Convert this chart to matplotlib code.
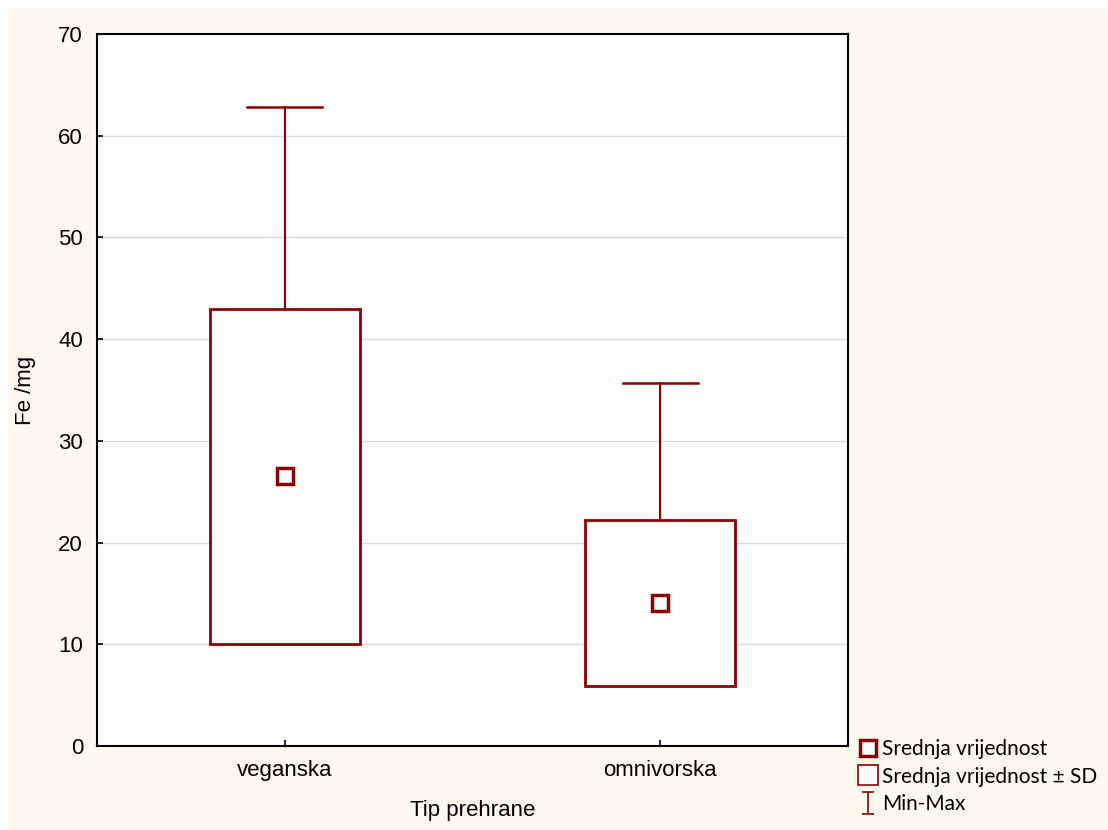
import matplotlib
matplotlib.use("Agg")
import matplotlib.pyplot as plt
from matplotlib.patches import Rectangle
from matplotlib.lines import Line2D
from matplotlib.path import Path

# data
categories = ["veganska", "omnivorska"]
means = [26.5, 14.05]
sds = [16.5, 8.2]
maxima = [62.8, 35.7]

red = "#8b0000"
cream = "#fdf9ef"

plt.rcParams["font.family"] = ["Liberation Sans", "DejaVu Sans"]

fig = plt.figure(figsize=(11.08, 8.3), dpi=100, facecolor=cream)
# white strips along the top and left edge
fig.patches.append(Rectangle((0, 1 - 8 / 830), 1, 8 / 830,
                             transform=fig.transFigure, facecolor="white",
                             edgecolor="none", zorder=-10))
fig.patches.append(Rectangle((0, 0), 8 / 1108, 1,
                             transform=fig.transFigure, facecolor="white",
                             edgecolor="none", zorder=-10))

ax = fig.add_axes([97 / 1108, 1 - 746 / 830, (848 - 97) / 1108, (746 - 34) / 830])
ax.set_facecolor("white")

box_w = 0.4
cap_w = 0.2
for i, (m, s, mx) in enumerate(zip(means, sds, maxima)):
    # whisker up to the maximum
    ax.plot([i, i], [m, mx], color=red, lw=1.5, zorder=2)
    ax.plot([i - cap_w / 2, i + cap_w / 2], [mx, mx], color=red, lw=1.8, zorder=2)
    # mean +/- SD box
    ax.add_patch(Rectangle((i - box_w / 2, m - s), box_w, 2 * s,
                           facecolor="white", edgecolor=red, lw=2, zorder=3))
    # mean marker
    ax.plot(i, m, marker="s", ms=12, mfc="white", mec=red, mew=2.5, zorder=4)

ax.set_xlim(-0.5, 1.5)
ax.set_ylim(0, 70)
ax.set_xticks(range(len(categories)))
ax.set_xticklabels(categories)
ax.set_yticks(range(0, 71, 10))
ax.yaxis.grid(True, color="#d9d9d9", lw=1)
ax.set_axisbelow(True)
ax.tick_params(direction="in", length=4, width=1.2, labelsize=16, pad=10,
               colors="black")
for sp in ax.spines.values():
    sp.set_color("black")
    sp.set_linewidth(1.5)

ax.set_xlabel("Tip prehrane", fontsize=16, labelpad=14)
ax.set_ylabel("Fe /mg", fontsize=16, labelpad=16)

# legend outside, bottom right
ibeam = Path([(-0.5, 1), (0.5, 1), (0, 1), (0, -1), (-0.5, -1), (0.5, -1)],
             [Path.MOVETO, Path.LINETO, Path.MOVETO, Path.LINETO,
              Path.MOVETO, Path.LINETO])
handles = [
    Line2D([], [], ls="none", marker="s", ms=11, mfc="white", mec=red, mew=2.5),
    Line2D([], [], ls="none", marker="s", ms=14, mfc="white", mec=red, mew=1.2),
    Line2D([], [], ls="none", marker=ibeam, ms=16, mec=red, mew=1.2),
]
labels = ["Srednja vrijednost", "Srednja vrijednost \u00b1 SD", "Min-Max"]
leg = fig.legend(handles, labels, loc="upper left",
                 bbox_to_anchor=(852 / 1108, 1 - 731 / 830),
                 frameon=False, handlelength=0.7, handletextpad=0.35,
                 labelspacing=0.35, borderaxespad=0,
                 prop={"family": ["Lato", "DejaVu Sans"], "size": 15})

fig.savefig("out.png", dpi=100, facecolor=fig.get_facecolor())
